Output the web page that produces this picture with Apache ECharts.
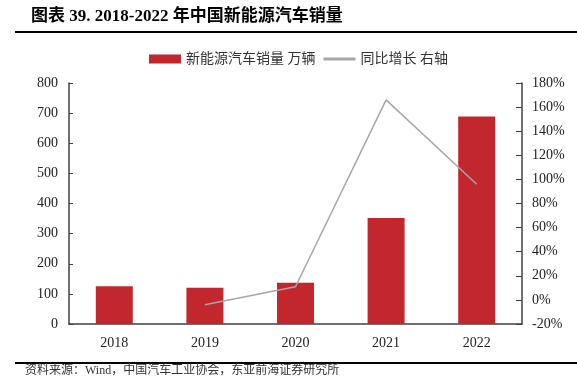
<!DOCTYPE html>
<html>
<head>
<meta charset="utf-8">
<script src="https://cdn.jsdelivr.net/npm/echarts@6/dist/echarts.min.js"></script>
<style>
  html, body { margin: 0; padding: 0; background: #fff; }
  #chart { width: 577px; height: 377px; }
</style>
</head>
<body>
<div id="chart"></div>
<script>
// 年份
const years = ['2018', '2019', '2020', '2021', '2022'];
// 新能源汽车销量（万辆）
const sales = [125.6, 120.6, 136.7, 352.1, 688.7];
// 同比增长（%），2018 无数据
const growth = [null, -4, 10.9, 166, 96];

const serif = '"Liberation Serif", "DejaVu Serif", serif';
const mixed = '"Liberation Serif", "Noto Sans CJK SC", serif';

const chart = echarts.init(document.getElementById('chart'));

const option = {
  animation: false,
  backgroundColor: '#fff',
  title: {
    text: '图表 39. 2018-2022 年中国新能源汽车销量',
    left: 26,
    top: 3,
    textStyle: {
      fontFamily: mixed,
      fontSize: 17,
      fontWeight: 'bold',
      color: '#000'
    }
  },
  graphic: [
    { type: 'line', shape: { x1: 15, y1: 32, x2: 577, y2: 32 }, style: { stroke: '#000', lineWidth: 2 } },
    { type: 'line', shape: { x1: 15, y1: 363, x2: 577, y2: 363 }, style: { stroke: '#000', lineWidth: 2 } },
    {
      type: 'text',
      left: 25,
      top: 365,
      style: {
        text: '资料来源：Wind，中国汽车工业协会，东亚前海证券研究所',
        fontFamily: mixed,
        fontSize: 12,
        fill: '#333'
      }
    }
  ],
  legend: {
    top: 47,
    left: 144,
    itemGap: 8,
    textStyle: { fontFamily: mixed, fontSize: 14, color: '#333' },
    data: [
      { name: '新能源汽车销量 万辆', icon: 'rect', itemStyle: { color: '#c1272d' } },
      { name: '同比增长 右轴', icon: 'path://M0,0 L10,0 L10,1 L0,1 Z' }
    ],
    itemWidth: 32,
    itemHeight: 9
  },
  grid: { left: 69, right: 55, top: 83, bottom: 53 },
  xAxis: {
    type: 'category',
    data: years,
    axisLine: { lineStyle: { color: '#404040', width: 1.5 } },
    axisTick: { show: false },
    axisLabel: { fontFamily: serif, fontSize: 14, color: '#222', margin: 12 }
  },
  yAxis: [
    {
      type: 'value',
      min: 0,
      max: 800,
      interval: 100,
      axisLine: { show: true, lineStyle: { color: '#404040', width: 1.5 } },
      axisTick: { show: true, inside: true, length: 4, lineStyle: { color: '#404040' } },
      axisLabel: { fontFamily: serif, fontSize: 14, color: '#222', margin: 11 },
      splitLine: { show: false }
    },
    {
      type: 'value',
      min: -20,
      max: 180,
      interval: 20,
      position: 'right',
      axisLine: { show: true, lineStyle: { color: '#404040', width: 1.5 } },
      axisTick: { show: true, inside: true, length: 6, lineStyle: { color: '#404040' } },
      axisLabel: { fontFamily: serif, fontSize: 14, color: '#222', margin: 10, formatter: '{value}%' },
      splitLine: { show: false }
    }
  ],
  series: [
    {
      name: '新能源汽车销量 万辆',
      type: 'bar',
      data: sales,
      barWidth: 37,
      itemStyle: { color: '#c1272d' }
    },
    {
      name: '同比增长 右轴',
      type: 'line',
      yAxisIndex: 1,
      data: growth,
      symbol: 'none',
      lineStyle: { color: '#a6a6a6', width: 1.5 },
      itemStyle: { color: '#a6a6a6' }
    }
  ]
};

chart.setOption(option);
</script>
</body>
</html>
